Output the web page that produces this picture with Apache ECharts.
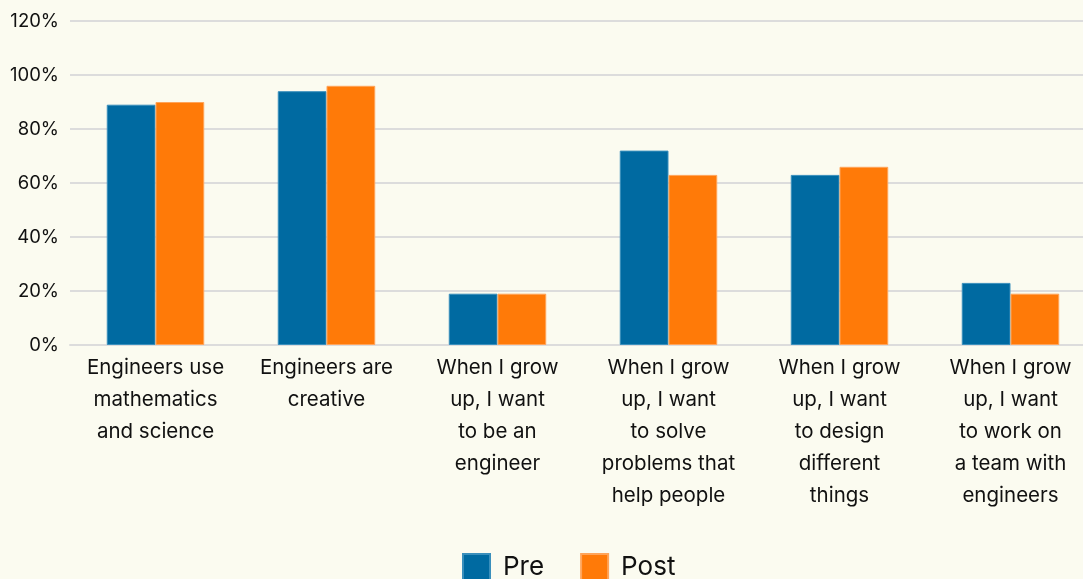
<!DOCTYPE html>
<html>
<head>
<meta charset="utf-8">
<script src="https://cdn.jsdelivr.net/npm/echarts@6/dist/echarts.min.js"></script>
<style>
  html, body { margin: 0; padding: 0; background: #fbfbf0; overflow: hidden; }
  #chart { width: 1100px; height: 579px; }
</style>
</head>
<body>
<div id="chart"></div>
<script>
// Survey statements (x-axis categories, wrapped as shown)
const categories = [
  'Engineers use\nmathematics\nand science',
  'Engineers are\ncreative',
  'When I grow\nup, I want\nto be an\nengineer',
  'When I grow\nup, I want\nto solve\nproblems that\nhelp people',
  'When I grow\nup, I want\nto design\ndifferent\nthings',
  'When I grow\nup, I want\nto work on\na team with\nengineers'
];
// Percent agreeing, before and after
const preValues = [89, 94, 19, 72, 63, 23];
const postValues = [90, 96, 19, 63, 66, 19];
const seriesNames = ['Pre', 'Post'];

const FONT = 'Inter, "Open Sans", sans-serif';
const chart = echarts.init(document.getElementById('chart'));
chart.setOption({
  backgroundColor: '#fbfbf0',
  textStyle: { fontFamily: FONT },
  grid: { left: 70, top: 21, right: 4, height: 324, containLabel: false },
  legend: {
    data: seriesNames,
    bottom: -8,
    left: 457,
    itemWidth: 27,
    itemHeight: 27,
    itemGap: 36,
    icon: 'rect',
    textStyle: { fontSize: 26, color: '#111', fontFamily: FONT, padding: [0, 0, 0, 8] }
  },
  xAxis: {
    type: 'category',
    data: categories,
    axisLine: { show: true, lineStyle: { color: '#dcdcdc', width: 2 } },
    axisTick: { show: false },
    axisLabel: {
      interval: 0,
      margin: 7,
      fontSize: 20.5,
      lineHeight: 32,
      color: '#111',
      fontFamily: FONT
    }
  },
  yAxis: {
    type: 'value',
    min: 0,
    max: 120,
    interval: 20,
    axisLine: { show: false },
    axisTick: { show: false },
    splitLine: { lineStyle: { color: '#dcdcdc', width: 2 } },
    axisLabel: {
      formatter: '{value}%',
      fontSize: 18.5,
      color: '#111',
      margin: 11,
      fontFamily: FONT
    }
  },
  series: [
    {
      name: seriesNames[0],
      type: 'bar',
      data: preValues,
      barGap: '0%',
      barCategoryGap: '43%',
      itemStyle: { color: '#006aa1', borderColor: '#3a8fbc', borderWidth: 1 }
    },
    {
      name: seriesNames[1],
      type: 'bar',
      data: postValues,
      itemStyle: { color: '#ff7a08', borderColor: '#ffa45a', borderWidth: 1 }
    }
  ]
});
</script>
</body>
</html>
